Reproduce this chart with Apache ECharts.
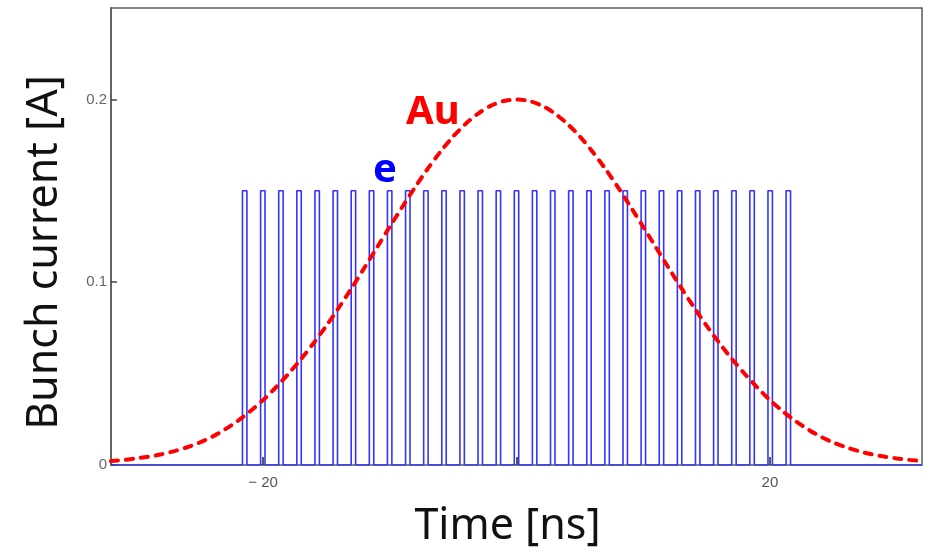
<!DOCTYPE html>
<html>
<head>
<meta charset="utf-8">
<script src="https://cdn.jsdelivr.net/npm/echarts@6/dist/echarts.min.js"></script>
<style>
  html, body { margin: 0; padding: 0; background: #fff; }
  #chart { width: 935px; height: 553px; }
</style>
</head>
<body>
<div id="chart"></div>
<script>
// Au bunch: longitudinal current profile, sampled every 1 ns
const auTime = [
  -32, -31, -30, -29, -28, -27, -26, -25, -24, -23, -22, -21, -20, -19, -18, -17,
  -16, -15, -14, -13, -12, -11, -10, -9, -8, -7, -6, -5, -4, -3, -2, -1,
  0, 1, 2, 3, 4, 5, 6, 7, 8, 9, 10, 11, 12, 13, 14, 15, 16,
  17, 18, 19, 20, 21, 22, 23, 24, 25, 26, 27, 28, 29, 30, 31, 32
];
const auCurrent = [
  0.0022, 0.0028, 0.0036, 0.0046, 0.0059, 0.0076, 0.0097, 0.0123, 0.0155, 0.0195, 0.0241, 0.0295, 0.0355, 0.0424, 0.0499, 0.0580,
  0.0668, 0.0762, 0.0863, 0.0969, 0.1079, 0.1191, 0.1303, 0.1413, 0.1520, 0.1621, 0.1714, 0.1797, 0.1867, 0.1924, 0.1966, 0.1991,
  0.2000, 0.1991, 0.1966, 0.1924, 0.1867, 0.1797, 0.1714, 0.1621, 0.1520, 0.1413, 0.1303, 0.1191, 0.1079, 0.0969, 0.0863, 0.0762, 0.0668,
  0.0580, 0.0499, 0.0424, 0.0355, 0.0295, 0.0241, 0.0195, 0.0155, 0.0123, 0.0097, 0.0076, 0.0059, 0.0046, 0.0036, 0.0028, 0.0022
];

// Electron bunch train: centre times [ns] and peak currents [A]
const eCenters = [
  -21.45, -20.02, -18.59, -17.16, -15.73, -14.30, -12.87, -11.44, -10.01, -8.58, -7.15,
  -5.72, -4.29, -2.86, -1.43, 0, 1.43, 2.86, 4.29, 5.72, 7.15, 8.58, 10.01,
  11.44, 12.87, 14.30, 15.73, 17.16, 18.59, 20.02, 21.45
];
const eCurrent = [
  0.15, 0.15, 0.15, 0.15, 0.15, 0.15, 0.15, 0.15, 0.15, 0.15, 0.15,
  0.15, 0.15, 0.15, 0.15, 0.15, 0.15, 0.15, 0.15, 0.15, 0.15, 0.15, 0.15,
  0.15, 0.15, 0.15, 0.15, 0.15, 0.15, 0.15, 0.15
];
const eLength = 0.35; // bunch length [ns]

// Axis ticks and labels
const xTicks = [-20, 0, 20];
const xLabels = [-20, 20];
const yTicks = [0, 0.1, 0.2];
const timeRange = [-32, 32];

const auData = auTime.map((t, i) => [t, auCurrent[i]]);

// Rectangular pulses joined along the zero baseline
const eData = [[timeRange[0], 0]];
eCenters.forEach((c, i) => {
  const a = c - eLength / 2, b = c + eLength / 2;
  eData.push([a, 0], [a, eCurrent[i]], [b, eCurrent[i]], [b, 0]);
});
eData.push([timeRange[1], 0]);

const chart = echarts.init(document.getElementById('chart'), null, { renderer: 'canvas' });

const labelFont = '"Liberation Sans", Arial, sans-serif';
const titleFont = '"Noto Sans", "Open Sans", sans-serif';

chart.setOption({
  animation: false,
  backgroundColor: '#ffffff',
  grid: {
    left: 111, right: 13, top: 8, bottom: 86,
    show: true, borderColor: '#5a5a5a', borderWidth: 1.5, backgroundColor: 'transparent'
  },
  xAxis: {
    type: 'value',
    min: timeRange[0], max: timeRange[1],
    name: 'Time [ns]',
    nameLocation: 'middle',
    nameGap: 40,
    nameTextStyle: { fontFamily: titleFont, fontSize: 43, color: '#111', padding: [0, 18, 0, 0] },
    axisLine: { show: false },
    splitLine: { show: false },
    axisTick: { show: true, inside: true, length: 8, customValues: xTicks, lineStyle: { color: '#222', width: 1.5 } },
    axisLabel: {
      customValues: xLabels,
      margin: 10,
      fontFamily: labelFont, fontSize: 15, color: '#555',
      formatter: v => (v < 0 ? '\u2212 ' + Math.abs(v) : String(v))
    }
  },
  yAxis: {
    type: 'value',
    min: 0, max: 0.25,
    name: 'Bunch current [A]',
    nameLocation: 'middle',
    nameRotate: 90,
    nameGap: 45,
    nameTextStyle: { fontFamily: titleFont, fontSize: 43, color: '#111', padding: [0, 32, 0, 0] },
    axisLine: { show: true, onZero: false, lineStyle: { color: '#5a5a5a', width: 1.5 } },
    splitLine: { show: false },
    axisTick: { show: true, inside: true, length: 6, customValues: yTicks, lineStyle: { color: '#444', width: 1.5 } },
    axisLabel: {
      customValues: yTicks,
      margin: 4,
      fontFamily: labelFont, fontSize: 15, color: '#666',
      formatter: v => String(v)
    }
  },
  series: [
    {
      name: 'e',
      type: 'line',
      data: eData,
      showSymbol: false,
      symbol: 'none',
      lineStyle: { color: '#3333ff', width: 1.6 },
      z: 2
    },
    {
      name: 'Au',
      type: 'line',
      data: auData,
      smooth: 0.3,
      showSymbol: false,
      symbol: 'none',
      lineStyle: { color: '#ff0000', width: 4, type: [7, 8], cap: 'round' },
      z: 3
    }
  ],
  graphic: [
    {
      type: 'text', left: 406, top: 93,
      style: { text: 'Au', font: 'bold 40px "Noto Sans", sans-serif', fill: '#ff0000' }
    },
    {
      type: 'text', left: 373, top: 151,
      style: { text: 'e', font: 'bold 40px "Noto Sans", sans-serif', fill: '#0000ff' }
    }
  ]
});
</script>
</body>
</html>
